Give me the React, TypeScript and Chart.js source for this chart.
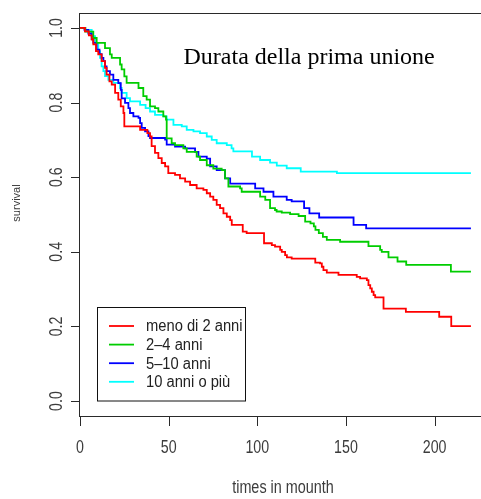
import React, { useEffect, useRef } from "react";
import { Chart, registerables } from "chart.js";

Chart.register(...registerables);

// ---- data ----
const groupLabels = ["meno di 2 anni", "2\u20134 anni", "5\u201310 anni", "10 anni o più"];
const groupColors = ["#ff0000", "#00cd00", "#0000ff", "#00ffff"];

const redTimes = [0, 2.8, 5, 6.6, 7.5, 9.0, 10.3, 12.2, 14.1, 15.0, 16.6, 17.9, 19.8, 21.6, 23.0, 24.5, 25.0, 33.9, 38.0, 39.5, 40.4, 42.3, 44.2, 46.1, 48.0, 49.8, 53.6, 56.4, 59.3, 62.1, 65.8, 69.6, 71.5, 73.4, 75.2, 77.1, 79.0, 80.9, 82.8, 84.7, 85.6, 91.8, 94.0, 103.8, 108.2, 110.0, 112.9, 113.8, 115.7, 116.7, 119.4, 132.7, 135.4, 136.4, 137.3, 139.2, 145.8, 156.1, 158.0, 161.8, 162.7, 163.7, 164.6, 165.6, 166.5, 171.2, 183.8, 202.6, 209.4, 220.5];
const redSurv = [1.0, 0.991, 0.98, 0.969, 0.956, 0.938, 0.929, 0.911, 0.893, 0.875, 0.857, 0.848, 0.826, 0.808, 0.79, 0.772, 0.736, 0.727, 0.718, 0.709, 0.683, 0.665, 0.651, 0.638, 0.629, 0.611, 0.606, 0.597, 0.588, 0.579, 0.57, 0.566, 0.557, 0.548, 0.539, 0.526, 0.517, 0.503, 0.494, 0.485, 0.472, 0.454, 0.45, 0.423, 0.418, 0.414, 0.405, 0.4, 0.391, 0.385, 0.382, 0.371, 0.369, 0.36, 0.351, 0.344, 0.338, 0.333, 0.329, 0.324, 0.311, 0.302, 0.293, 0.284, 0.278, 0.248, 0.239, 0.226, 0.201, 0.201];

const greenTimes = [0, 3, 7.5, 9.4, 14.1, 16.9, 17.9, 22.6, 23.5, 25.0, 26.3, 33.0, 35.7, 37.6, 39.5, 42.3, 44.2, 47.0, 48.5, 48.9, 51.7, 53.6, 58.3, 60.2, 65.8, 67.7, 71.5, 75.2, 79.9, 81.8, 83.7, 90.3, 91.2, 101.6, 104.5, 107.2, 110.0, 110.9, 113.8, 118.5, 123.3, 127.0, 130.0, 131.9, 132.8, 134.7, 137.0, 139.2, 146.7, 162.7, 169.3, 170.2, 174.0, 179.1, 184.0, 209.2, 220.5];
const greenSurv = [1.0, 0.99, 0.973, 0.96, 0.946, 0.929, 0.92, 0.902, 0.889, 0.87, 0.853, 0.839, 0.817, 0.808, 0.79, 0.785, 0.776, 0.763, 0.754, 0.704, 0.691, 0.686, 0.677, 0.668, 0.655, 0.646, 0.632, 0.623, 0.619, 0.597, 0.575, 0.57, 0.561, 0.548, 0.539, 0.517, 0.512, 0.508, 0.505, 0.501, 0.496, 0.481, 0.476, 0.468, 0.459, 0.45, 0.44, 0.432, 0.427, 0.415, 0.405, 0.4, 0.385, 0.374, 0.365, 0.347, 0.347];

const blueTimes = [0, 2.5, 4.7, 6.6, 7.5, 9.4, 11.0, 12.2, 13.2, 14.1, 15.0, 16.9, 18.8, 21.6, 23.0, 23.5, 25.4, 27.3, 28.2, 30.1, 33.0, 33.9, 34.8, 36.7, 38.6, 39.5, 48.0, 48.9, 53.6, 59.3, 64.9, 66.8, 71.5, 73.4, 77.1, 81.8, 84.7, 98.8, 103.5, 109.1, 116.6, 119.4, 126.4, 129.4, 134.9, 154.3, 161.4, 220.5];
const blueSurv = [1.0, 0.995, 0.985, 0.97, 0.96, 0.942, 0.93, 0.92, 0.911, 0.897, 0.884, 0.875, 0.861, 0.852, 0.834, 0.811, 0.799, 0.785, 0.772, 0.763, 0.759, 0.745, 0.732, 0.723, 0.71, 0.705, 0.701, 0.687, 0.682, 0.677, 0.668, 0.655, 0.65, 0.629, 0.619, 0.597, 0.583, 0.57, 0.561, 0.548, 0.539, 0.535, 0.517, 0.503, 0.492, 0.472, 0.463, 0.463];

const cyanTimes = [0, 3, 6.6, 8.5, 10.3, 11.3, 12.2, 13.2, 14.1, 16.0, 18.8, 22.6, 23.5, 26.3, 28.2, 33.9, 37.0, 39.5, 42.3, 47.0, 48.9, 52.7, 57.4, 60.2, 64.0, 67.7, 71.5, 74.3, 77.1, 82.8, 85.5, 86.5, 97.0, 101.6, 107.2, 111.0, 116.6, 124.5, 144.9, 220.5];
const cyanSurv = [1.0, 0.995, 0.978, 0.96, 0.938, 0.92, 0.897, 0.884, 0.871, 0.861, 0.853, 0.839, 0.826, 0.812, 0.803, 0.794, 0.785, 0.776, 0.767, 0.763, 0.754, 0.74, 0.736, 0.727, 0.723, 0.718, 0.709, 0.7, 0.691, 0.686, 0.677, 0.669, 0.655, 0.646, 0.639, 0.631, 0.624, 0.615, 0.611, 0.611];

const xTicks = [0, 50, 100, 150, 200];
const yTicks = [0, 0.2, 0.4, 0.6, 0.8, 1.0];
const yTickLabels = ["0.0", "0.2", "0.4", "0.6", "0.8", "1.0"];
const chartTitle = "Durata della prima unione";
const xTitle = "times in mounth";
const yTitle = "survival";

const seriesTimes = [redTimes, greenTimes, blueTimes, cyanTimes];
const seriesSurv = [redSurv, greenSurv, blueSurv, cyanSurv];

const SANS = '"Liberation Sans", Arial, sans-serif';
const SERIF = '"Liberation Serif", "Times New Roman", serif';

function drawText(
  ctx: CanvasRenderingContext2D,
  text: string,
  x: number,
  y: number,
  font: string,
  sx: number,
  align: CanvasTextAlign,
  baseline: CanvasTextBaseline,
  rotate: boolean,
  color: string
) {
  ctx.save();
  ctx.translate(x, y);
  if (rotate) ctx.rotate(-Math.PI / 2);
  ctx.scale(sx, 1);
  ctx.font = font;
  ctx.fillStyle = color;
  ctx.textAlign = align;
  ctx.textBaseline = baseline;
  ctx.fillText(text, 0, 0);
  ctx.restore();
}

const rAxesPlugin = {
  id: "rAxes",
  afterDraw(chart: any) {
    const ctx: CanvasRenderingContext2D = chart.ctx;
    const area = chart.chartArea;
    const xs = chart.scales.x;
    const ys = chart.scales.y;
    const axisColor = "#2a2a2a";
    const textColor = "#3c3c3c";
    ctx.save();
    ctx.strokeStyle = axisColor;
    ctx.lineWidth = 1;
    // box
    ctx.strokeRect(area.left - 0.5, area.top + 0.5, area.right - area.left, area.bottom - area.top);
    // x ticks
    ctx.beginPath();
    xTicks.forEach((t) => {
      const px = Math.round(xs.getPixelForValue(t)) + 0.5;
      ctx.moveTo(px, area.bottom);
      ctx.lineTo(px, area.bottom + 10);
    });
    // y ticks
    yTicks.forEach((t) => {
      const py = Math.round(ys.getPixelForValue(t)) + 0.5;
      ctx.moveTo(area.left - 9, py);
      ctx.lineTo(area.left, py);
    });
    ctx.stroke();

    const tickFont = `18px ${SANS}`;
    xTicks.forEach((t) => {
      drawText(ctx, String(t), xs.getPixelForValue(t), 453, tickFont, 0.79, "center", "alphabetic", false, textColor);
    });
    yTicks.forEach((t, i) => {
      drawText(ctx, yTickLabels[i], 61.5, ys.getPixelForValue(t), tickFont, 0.79, "center", "alphabetic", true, textColor);
    });
    // axis titles
    drawText(ctx, xTitle, (area.left + area.right) / 2, 493, tickFont, 0.8, "center", "alphabetic", false, textColor);
    drawText(ctx, yTitle, 20, 203, `11px ${SANS}`, 1, "center", "alphabetic", true, textColor);

    // main title
    drawText(ctx, chartTitle, 183.5, 64, `24px ${SERIF}`, 1, "left", "alphabetic", false, "#000");

    // legend
    ctx.strokeStyle = "#111";
    ctx.lineWidth = 1;
    ctx.strokeRect(97.5, 307.5, 148, 93.5);
    chart.data.datasets.forEach((ds: any, i: number) => {
      const ry = 326 + i * 18.6;
      ctx.beginPath();
      ctx.strokeStyle = ds.borderColor;
      ctx.lineWidth = 1.8;
      ctx.moveTo(109, ry);
      ctx.lineTo(134, ry);
      ctx.stroke();
      drawText(ctx, ds.label, 146, ry + 1, `16px ${SANS}`, 0.92, "left", "middle", false, "#222");
    });
    ctx.restore();
  },
};

export default function App() {
  const canvasRef = useRef<HTMLCanvasElement | null>(null);

  useEffect(() => {
    const canvas = canvasRef.current;
    if (!canvas) return;
    const datasets = groupLabels.map((label, i) => ({
      label,
      data: seriesTimes[i].map((t, j) => ({ x: t, y: seriesSurv[i][j] })),
      borderColor: groupColors[i],
      backgroundColor: groupColors[i],
      borderWidth: 1.8,
      stepped: true as const,
      pointRadius: 0,
      fill: false,
    }));
    const chart = new Chart(canvas, {
      type: "line",
      data: { datasets },
      options: {
        responsive: false,
        animation: false,
        devicePixelRatio: 1,
        layout: { padding: { left: 80, top: 13, right: 14, bottom: 83 } },
        scales: {
          x: { type: "linear", min: 0, max: 229, display: false },
          y: { type: "linear", min: -0.04, max: 1.04, display: false },
        },
        plugins: {
          legend: { display: false },
          title: { display: false },
          tooltip: { enabled: false },
        },
      },
      plugins: [rAxesPlugin],
    });
    return () => chart.destroy();
  }, []);

  return (
    <div
      style={{
        position: "fixed",
        left: 0,
        top: 0,
        width: 481,
        height: 499,
        overflow: "hidden",
        background: "#fff",
      }}
    >
      <canvas ref={canvasRef} width={500} height={499} style={{ display: "block" }} />
    </div>
  );
}
